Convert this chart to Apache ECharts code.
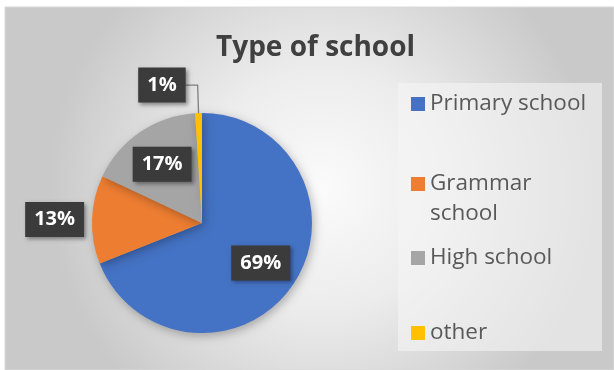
<!DOCTYPE html>
<html>
<head>
<meta charset="utf-8">
<script src="https://cdn.jsdelivr.net/npm/echarts@6/dist/echarts.min.js"></script>
<style>
html,body{margin:0;padding:0;background:#fff;}
#chart{width:614px;height:370px;}
</style>
</head>
<body>
<div id="chart"></div>
<script>
const categories = ['Primary school', 'Grammar school', 'High school', 'other'];
const values = [69, 13, 17, 1];
const colors = ['#4472C4', '#ED7D31', '#A5A5A5', '#FFC000'];
const insideLabel = [true, false, true, false];
const legendTops = [89, 139, 243, 318];

const chart = echarts.init(document.getElementById('chart'));

const FONT = '"Open Sans", "Noto Sans", sans-serif';

const legendFormatter = function (name) {
  // keep "Grammar" on the icon line and wrap "school" below it
  return name === 'Grammar school' ? '\u00a0\nGrammar\nschool' : name;
};

const legends = categories.map(function (name, i) {
  return {
    data: [name],
    orient: 'vertical',
    left: 411,
    top: legendTops[i],
    padding: 0,
    itemWidth: 14,
    itemHeight: 14,
    itemGap: 0,
    icon: 'rect',
    formatter: legendFormatter,
    textStyle: {
      fontFamily: FONT,
      fontSize: 22.5,
      color: '#595959',
      lineHeight: 30
    }
  };
});

const labelBase = {
  formatter: '{c}%',
  fontFamily: FONT,
  fontSize: 20,
  fontWeight: 'bold',
  color: '#ffffff',
  backgroundColor: '#3b3b3b',
  padding: [8, 9, 7, 9],
  shadowBlur: 4,
  shadowColor: 'rgba(0,0,0,0.4)',
  shadowOffsetX: 2,
  shadowOffsetY: 2
};

// visible pie: outside labels only
const mainData = categories.map(function (name, i) {
  const item = {
    name: name,
    value: values[i],
    itemStyle: { color: colors[i] },
    label: { show: !insideLabel[i], position: 'outside' },
    labelLine: { show: false }
  };
  if (name === 'Grammar school') {
    item.labelLine = { show: false, length: 2, length2: 2 };
    item.label.distanceToLabelLine = 4;
  }
  if (name === 'other') {
    item.labelLine = { show: true, length: 28, length2: 12, lineStyle: { color: '#7f7f7f', width: 1.3 } };
    item.label.distanceToLabelLine = 0;
  }
  return item;
});

// transparent ring carrying the "best fit" inside labels
const labelData = categories.map(function (name, i) {
  return {
    name: name,
    value: values[i],
    itemStyle: { color: 'rgba(0,0,0,0)' },
    label: { show: insideLabel[i], position: 'inside' }
  };
});

const option = {
  backgroundColor: '#ffffff',
  animation: false,
  color: colors,
  graphic: [
    {
      type: 'rect',
      z: -10,
      shape: { x: 5, y: 7, width: 609, height: 363 },
      style: {
        fill: {
          type: 'radial', x: 0.52, y: 0.5, r: 0.75,
          colorStops: [
            { offset: 0, color: '#fbfbfb' },
            { offset: 0.45, color: '#ececec' },
            { offset: 1, color: '#c9c9c9' }
          ]
        },
        stroke: '#d9d9d9',
        lineWidth: 1
      }
    },
    {
      type: 'rect',
      z: -9,
      shape: { x: 398, y: 83, width: 204, height: 268 },
      style: { fill: 'rgba(245,245,245,0.6)' }
    }
  ],
  title: {
    text: 'Type of school',
    left: 211,
    top: 29,
    textStyle: {
      fontFamily: FONT,
      fontSize: 28,
      fontWeight: 'bold',
      color: '#404040'
    }
  },
  legend: legends,
  series: [
    {
      type: 'pie',
      center: [202, 223],
      radius: 110,
      startAngle: 90,
      clockwise: true,
      avoidLabelOverlap: false,
      data: mainData,
      itemStyle: {
        shadowBlur: 10,
        shadowColor: 'rgba(0,0,0,0.28)',
        shadowOffsetX: 2,
        shadowOffsetY: 3
      },
      label: labelBase,
      emphasis: { scale: false }
    },
    {
      type: 'pie',
      center: [202, 223],
      radius: [26, 110],
      startAngle: 90,
      clockwise: true,
      avoidLabelOverlap: false,
      silent: true,
      data: labelData,
      label: labelBase,
      labelLine: { show: false },
      emphasis: { disabled: true }
    }
  ]
};

chart.setOption(option);
</script>
</body>
</html>
